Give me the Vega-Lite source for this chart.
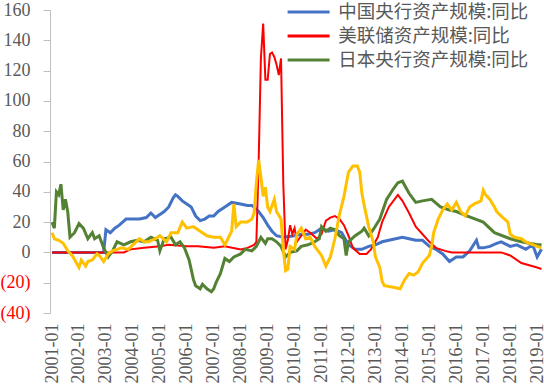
{
  "$schema": "https://vega.github.io/schema/vega-lite/v6.json",
  "width": 494,
  "height": 303,
  "autosize": "none",
  "padding": {"left": 50, "top": 10, "right": 0, "bottom": 75},
  "background": "white",
  "config": {"view": {"stroke": null}, "axisY": {"labelOverlap": false}, "axis": {"labelOverlap": false}},
  "datasets": {
    "series": [
      {"s":"CN","d":"2001-01","v":0},{"s":"CN","d":"2002-12","v":0},{"s":"CN","d":"2003-01","v":15},{"s":"CN","d":"2003-03","v":13},{"s":"CN","d":"2003-05","v":16},{"s":"CN","d":"2003-07","v":18},{"s":"CN","d":"2003-10","v":22},{"s":"CN","d":"2004-01","v":22},{"s":"CN","d":"2004-04","v":22},{"s":"CN","d":"2004-07","v":23},{"s":"CN","d":"2004-09","v":26},{"s":"CN","d":"2004-11","v":23},{"s":"CN","d":"2005-01","v":25},{"s":"CN","d":"2005-03","v":27},{"s":"CN","d":"2005-05","v":30},{"s":"CN","d":"2005-07","v":36},{"s":"CN","d":"2005-08","v":38},{"s":"CN","d":"2005-09","v":37},{"s":"CN","d":"2005-11","v":34},{"s":"CN","d":"2006-01","v":32},{"s":"CN","d":"2006-03","v":30},{"s":"CN","d":"2006-05","v":24},{"s":"CN","d":"2006-07","v":21},{"s":"CN","d":"2006-09","v":22},{"s":"CN","d":"2006-11","v":24},{"s":"CN","d":"2007-01","v":24},{"s":"CN","d":"2007-03","v":27},{"s":"CN","d":"2007-06","v":30},{"s":"CN","d":"2007-09","v":33},{"s":"CN","d":"2008-01","v":32},{"s":"CN","d":"2008-04","v":31},{"s":"CN","d":"2008-06","v":31},{"s":"CN","d":"2008-09","v":27},{"s":"CN","d":"2008-11","v":23},{"s":"CN","d":"2009-01","v":18},{"s":"CN","d":"2009-03","v":14},{"s":"CN","d":"2009-05","v":11},{"s":"CN","d":"2009-08","v":10},{"s":"CN","d":"2010-01","v":11},{"s":"CN","d":"2010-04","v":12},{"s":"CN","d":"2010-07","v":12},{"s":"CN","d":"2010-10","v":13},{"s":"CN","d":"2011-01","v":16},{"s":"CN","d":"2011-04","v":14},{"s":"CN","d":"2011-07","v":15},{"s":"CN","d":"2011-10","v":13},{"s":"CN","d":"2012-01","v":5},{"s":"CN","d":"2012-04","v":2},{"s":"CN","d":"2012-07","v":2},{"s":"CN","d":"2012-10","v":4},{"s":"CN","d":"2013-01","v":5},{"s":"CN","d":"2013-04","v":7},{"s":"CN","d":"2013-07","v":8},{"s":"CN","d":"2013-10","v":9},{"s":"CN","d":"2014-01","v":10},{"s":"CN","d":"2014-04","v":9},{"s":"CN","d":"2014-07","v":8},{"s":"CN","d":"2014-10","v":8},{"s":"CN","d":"2015-01","v":4},{"s":"CN","d":"2015-04","v":2},{"s":"CN","d":"2015-07","v":-1},{"s":"CN","d":"2015-10","v":-6},{"s":"CN","d":"2016-01","v":-3},{"s":"CN","d":"2016-04","v":-3},{"s":"CN","d":"2016-07","v":1},{"s":"CN","d":"2016-10","v":8},{"s":"CN","d":"2016-11","v":3},{"s":"CN","d":"2017-01","v":3},{"s":"CN","d":"2017-04","v":4},{"s":"CN","d":"2017-07","v":6},{"s":"CN","d":"2017-09","v":7},{"s":"CN","d":"2018-01","v":4},{"s":"CN","d":"2018-04","v":5},{"s":"CN","d":"2018-08","v":2},{"s":"CN","d":"2018-11","v":5},{"s":"CN","d":"2019-01","v":-3},{"s":"CN","d":"2019-03","v":2},
      {"s":"US","d":"2001-01","v":0},{"s":"US","d":"2003-09","v":0},{"s":"US","d":"2003-12","v":2},{"s":"US","d":"2004-06","v":3},{"s":"US","d":"2005-01","v":4},{"s":"US","d":"2005-05","v":5},{"s":"US","d":"2006-01","v":4},{"s":"US","d":"2006-06","v":4},{"s":"US","d":"2007-01","v":3},{"s":"US","d":"2007-06","v":4},{"s":"US","d":"2008-01","v":2},{"s":"US","d":"2008-04","v":3},{"s":"US","d":"2008-07","v":5},{"s":"US","d":"2008-08","v":7},{"s":"US","d":"2008-09","v":60},{"s":"US","d":"2008-10","v":128},{"s":"US","d":"2008-11","v":151},{"s":"US","d":"2008-12","v":114},{"s":"US","d":"2009-01","v":114},{"s":"US","d":"2009-02","v":131},{"s":"US","d":"2009-03","v":132},{"s":"US","d":"2009-04","v":129},{"s":"US","d":"2009-05","v":124},{"s":"US","d":"2009-06","v":117},{"s":"US","d":"2009-07","v":128},{"s":"US","d":"2009-08","v":45},{"s":"US","d":"2009-09","v":2},{"s":"US","d":"2009-10","v":8},{"s":"US","d":"2009-11","v":18},{"s":"US","d":"2009-12","v":12},{"s":"US","d":"2010-01","v":16},{"s":"US","d":"2010-02","v":7},{"s":"US","d":"2010-04","v":11},{"s":"US","d":"2010-06","v":15},{"s":"US","d":"2010-08","v":13},{"s":"US","d":"2010-11","v":9},{"s":"US","d":"2011-01","v":12},{"s":"US","d":"2011-03","v":21},{"s":"US","d":"2011-05","v":23},{"s":"US","d":"2011-07","v":24},{"s":"US","d":"2011-09","v":22},{"s":"US","d":"2011-11","v":18},{"s":"US","d":"2012-01","v":11},{"s":"US","d":"2012-03","v":3},{"s":"US","d":"2012-06","v":-1},{"s":"US","d":"2012-09","v":-1},{"s":"US","d":"2012-11","v":2},{"s":"US","d":"2013-02","v":10},{"s":"US","d":"2013-04","v":20},{"s":"US","d":"2013-07","v":30},{"s":"US","d":"2013-11","v":38},{"s":"US","d":"2014-01","v":34},{"s":"US","d":"2014-04","v":26},{"s":"US","d":"2014-07","v":17},{"s":"US","d":"2014-10","v":12},{"s":"US","d":"2015-01","v":7},{"s":"US","d":"2015-04","v":3},{"s":"US","d":"2015-08","v":1},{"s":"US","d":"2015-11","v":0},{"s":"US","d":"2016-06","v":0},{"s":"US","d":"2017-06","v":0},{"s":"US","d":"2017-09","v":0},{"s":"US","d":"2018-01","v":-2},{"s":"US","d":"2018-06","v":-7},{"s":"US","d":"2019-01","v":-10},{"s":"US","d":"2019-03","v":-11},
      {"s":"JP","d":"2001-01","v":20},{"s":"JP","d":"2001-02","v":16},{"s":"JP","d":"2001-03","v":40},{"s":"JP","d":"2001-04","v":38},{"s":"JP","d":"2001-05","v":45},{"s":"JP","d":"2001-06","v":28},{"s":"JP","d":"2001-07","v":35},{"s":"JP","d":"2001-08","v":27},{"s":"JP","d":"2001-09","v":10},{"s":"JP","d":"2001-11","v":13},{"s":"JP","d":"2002-01","v":19},{"s":"JP","d":"2002-03","v":16},{"s":"JP","d":"2002-05","v":9},{"s":"JP","d":"2002-07","v":13},{"s":"JP","d":"2002-08","v":9},{"s":"JP","d":"2002-10","v":11},{"s":"JP","d":"2002-12","v":3},{"s":"JP","d":"2003-02","v":-3},{"s":"JP","d":"2003-04","v":1},{"s":"JP","d":"2003-06","v":7},{"s":"JP","d":"2003-09","v":5},{"s":"JP","d":"2003-12","v":7},{"s":"JP","d":"2004-03","v":8},{"s":"JP","d":"2004-06","v":7},{"s":"JP","d":"2004-09","v":10},{"s":"JP","d":"2004-12","v":8},{"s":"JP","d":"2005-01","v":1},{"s":"JP","d":"2005-03","v":9},{"s":"JP","d":"2005-06","v":10},{"s":"JP","d":"2005-08","v":5},{"s":"JP","d":"2005-10","v":7},{"s":"JP","d":"2005-12","v":3},{"s":"JP","d":"2006-02","v":-5},{"s":"JP","d":"2006-03","v":-11},{"s":"JP","d":"2006-04","v":-18},{"s":"JP","d":"2006-05","v":-22},{"s":"JP","d":"2006-07","v":-24},{"s":"JP","d":"2006-08","v":-21},{"s":"JP","d":"2006-10","v":-24},{"s":"JP","d":"2006-12","v":-26},{"s":"JP","d":"2007-01","v":-24},{"s":"JP","d":"2007-02","v":-20},{"s":"JP","d":"2007-04","v":-14},{"s":"JP","d":"2007-06","v":-4},{"s":"JP","d":"2007-08","v":-6},{"s":"JP","d":"2007-10","v":-3},{"s":"JP","d":"2008-01","v":-1},{"s":"JP","d":"2008-03","v":2},{"s":"JP","d":"2008-06","v":1},{"s":"JP","d":"2008-08","v":4},{"s":"JP","d":"2008-10","v":10},{"s":"JP","d":"2008-12","v":6},{"s":"JP","d":"2009-01","v":9},{"s":"JP","d":"2009-03","v":9},{"s":"JP","d":"2009-05","v":7},{"s":"JP","d":"2009-07","v":4},{"s":"JP","d":"2009-09","v":-3},{"s":"JP","d":"2009-11","v":0},{"s":"JP","d":"2010-02","v":1},{"s":"JP","d":"2010-04","v":4},{"s":"JP","d":"2010-07","v":5},{"s":"JP","d":"2010-10","v":7},{"s":"JP","d":"2010-12","v":9},{"s":"JP","d":"2011-01","v":17},{"s":"JP","d":"2011-03","v":14},{"s":"JP","d":"2011-05","v":16},{"s":"JP","d":"2011-07","v":15},{"s":"JP","d":"2011-09","v":11},{"s":"JP","d":"2011-11","v":9},{"s":"JP","d":"2011-12","v":-2},{"s":"JP","d":"2012-01","v":7},{"s":"JP","d":"2012-04","v":11},{"s":"JP","d":"2012-07","v":14},{"s":"JP","d":"2012-08","v":16},{"s":"JP","d":"2012-10","v":11},{"s":"JP","d":"2012-12","v":15},{"s":"JP","d":"2013-03","v":22},{"s":"JP","d":"2013-06","v":35},{"s":"JP","d":"2013-09","v":42},{"s":"JP","d":"2013-11","v":46},{"s":"JP","d":"2014-01","v":47},{"s":"JP","d":"2014-04","v":39},{"s":"JP","d":"2014-07","v":33},{"s":"JP","d":"2014-10","v":34},{"s":"JP","d":"2015-02","v":35},{"s":"JP","d":"2015-06","v":30},{"s":"JP","d":"2015-10","v":28},{"s":"JP","d":"2016-01","v":27},{"s":"JP","d":"2016-06","v":24},{"s":"JP","d":"2017-01","v":20},{"s":"JP","d":"2017-06","v":13},{"s":"JP","d":"2018-01","v":9},{"s":"JP","d":"2018-06","v":7},{"s":"JP","d":"2019-01","v":5},{"s":"JP","d":"2019-03","v":5},
      {"s":"EU","d":"2001-01","v":13},{"s":"EU","d":"2001-02","v":9},{"s":"EU","d":"2001-04","v":8},{"s":"EU","d":"2001-06","v":6},{"s":"EU","d":"2001-08","v":1},{"s":"EU","d":"2001-10","v":-2},{"s":"EU","d":"2002-01","v":-10},{"s":"EU","d":"2002-02","v":-5},{"s":"EU","d":"2002-04","v":-9},{"s":"EU","d":"2002-05","v":-6},{"s":"EU","d":"2002-07","v":-5},{"s":"EU","d":"2002-09","v":-1},{"s":"EU","d":"2002-10","v":-2},{"s":"EU","d":"2002-12","v":-6},{"s":"EU","d":"2003-02","v":-1},{"s":"EU","d":"2003-04","v":1},{"s":"EU","d":"2003-06","v":2},{"s":"EU","d":"2003-08","v":3},{"s":"EU","d":"2003-11","v":2},{"s":"EU","d":"2004-01","v":5},{"s":"EU","d":"2004-04","v":9},{"s":"EU","d":"2004-06","v":7},{"s":"EU","d":"2004-08","v":7},{"s":"EU","d":"2004-11","v":9},{"s":"EU","d":"2005-01","v":11},{"s":"EU","d":"2005-04","v":7},{"s":"EU","d":"2005-06","v":13},{"s":"EU","d":"2005-09","v":13},{"s":"EU","d":"2005-11","v":20},{"s":"EU","d":"2006-01","v":16},{"s":"EU","d":"2006-04","v":17},{"s":"EU","d":"2006-07","v":14},{"s":"EU","d":"2006-10","v":11},{"s":"EU","d":"2007-01","v":10},{"s":"EU","d":"2007-04","v":10},{"s":"EU","d":"2007-06","v":5},{"s":"EU","d":"2007-08","v":11},{"s":"EU","d":"2007-09","v":14},{"s":"EU","d":"2007-10","v":32},{"s":"EU","d":"2007-11","v":17},{"s":"EU","d":"2008-01","v":20},{"s":"EU","d":"2008-04","v":20},{"s":"EU","d":"2008-06","v":22},{"s":"EU","d":"2008-07","v":26},{"s":"EU","d":"2008-08","v":46},{"s":"EU","d":"2008-09","v":61},{"s":"EU","d":"2008-10","v":50},{"s":"EU","d":"2008-11","v":37},{"s":"EU","d":"2008-12","v":43},{"s":"EU","d":"2009-01","v":30},{"s":"EU","d":"2009-02","v":27},{"s":"EU","d":"2009-04","v":35},{"s":"EU","d":"2009-05","v":27},{"s":"EU","d":"2009-07","v":22},{"s":"EU","d":"2009-08","v":2},{"s":"EU","d":"2009-09","v":-12},{"s":"EU","d":"2009-10","v":-11},{"s":"EU","d":"2009-11","v":4},{"s":"EU","d":"2010-01","v":2},{"s":"EU","d":"2010-02","v":12},{"s":"EU","d":"2010-04","v":16},{"s":"EU","d":"2010-06","v":9},{"s":"EU","d":"2010-08","v":10},{"s":"EU","d":"2010-10","v":4},{"s":"EU","d":"2011-01","v":-2},{"s":"EU","d":"2011-03","v":-9},{"s":"EU","d":"2011-05","v":-3},{"s":"EU","d":"2011-07","v":9},{"s":"EU","d":"2011-09","v":25},{"s":"EU","d":"2011-11","v":37},{"s":"EU","d":"2012-01","v":53},{"s":"EU","d":"2012-03","v":57},{"s":"EU","d":"2012-05","v":57},{"s":"EU","d":"2012-06","v":53},{"s":"EU","d":"2012-07","v":39},{"s":"EU","d":"2012-08","v":31},{"s":"EU","d":"2012-10","v":17},{"s":"EU","d":"2012-12","v":7},{"s":"EU","d":"2013-01","v":-3},{"s":"EU","d":"2013-03","v":-10},{"s":"EU","d":"2013-04","v":-19},{"s":"EU","d":"2013-05","v":-22},{"s":"EU","d":"2013-09","v":-23},{"s":"EU","d":"2013-12","v":-24},{"s":"EU","d":"2014-02","v":-18},{"s":"EU","d":"2014-04","v":-14},{"s":"EU","d":"2014-06","v":-15},{"s":"EU","d":"2014-08","v":-13},{"s":"EU","d":"2014-10","v":-7},{"s":"EU","d":"2015-01","v":-2},{"s":"EU","d":"2015-02","v":4},{"s":"EU","d":"2015-03","v":13},{"s":"EU","d":"2015-05","v":22},{"s":"EU","d":"2015-07","v":28},{"s":"EU","d":"2015-09","v":32},{"s":"EU","d":"2015-11","v":28},{"s":"EU","d":"2016-01","v":33},{"s":"EU","d":"2016-03","v":27},{"s":"EU","d":"2016-05","v":24},{"s":"EU","d":"2016-07","v":30},{"s":"EU","d":"2016-09","v":32},{"s":"EU","d":"2016-12","v":34},{"s":"EU","d":"2017-01","v":41},{"s":"EU","d":"2017-02","v":38},{"s":"EU","d":"2017-04","v":35},{"s":"EU","d":"2017-06","v":30},{"s":"EU","d":"2017-07","v":27},{"s":"EU","d":"2017-09","v":24},{"s":"EU","d":"2017-12","v":20},{"s":"EU","d":"2018-01","v":12},{"s":"EU","d":"2018-03","v":10},{"s":"EU","d":"2018-06","v":9},{"s":"EU","d":"2018-08","v":7},{"s":"EU","d":"2019-01","v":4},{"s":"EU","d":"2019-03","v":3}
    ],
    "ticks": [
      {"d":"2001-12"},{"d":"2002-12"},{"d":"2003-12"},{"d":"2004-12"},{"d":"2005-12"},{"d":"2006-12"},{"d":"2007-12"},{"d":"2008-12"},{"d":"2009-12"},{"d":"2010-12"},{"d":"2011-12"},{"d":"2012-12"},{"d":"2013-12"},{"d":"2014-12"},{"d":"2015-12"},{"d":"2016-12"},{"d":"2017-12"},{"d":"2018-12"}
    ]
  },
  "encoding": {
    "x": {
      "field": "d", "type": "temporal",
      "scale": {"type": "utc", "domain": [{"year": 2000, "month": 12, "date": 4, "utc": true}, {"year": 2019, "month": 4, "date": 4, "utc": true}]},
      "axis": {"title": null, "format": "%Y-%m", "tickCount": {"interval": "year", "step": 1}, "labelAngle": -90, "labelAlign": "right", "labelBaseline": "middle", "labelPadding": 10, "domain": false, "ticks": false, "grid": false, "labelOverlap": false, "labelFlush": false, "labelFont": "Liberation Serif", "labelFontSize": 18, "labelColor": "#595959"}
    },
    "y": {"field": "v", "type": "quantitative", "scale": {"domain": [-40, 160], "nice": false},
      "axis": {"title": null, "values": [-40, -20, 0, 20, 40, 60, 80, 100, 120, 140, 160], "grid": false, "labelOverlap": false,
        "labelExpr": "datum.value < 0 ? '(' + abs(datum.value) + ')' : datum.value + '\u00a0'",
        "labelColor": {"condition": {"test": "datum.value < 0", "value": "#FF0000"}, "value": "#595959"},
        "labelFont": "Liberation Serif", "labelFontSize": 18, "domainColor": "#BFBFBF", "tickColor": "#BFBFBF", "tickSize": 7, "labelPadding": 13}}
  },
  "layer": [
    {
      "data": {"name": "ticks"},
      "mark": {"type": "rule", "color": "#D9D9D9", "strokeWidth": 1},
      "encoding": {"y": {"datum": 0, "type": "quantitative"}, "y2": {"datum": -4}}
    },
    {
      "data": {"name": "ticks"},
      "mark": {"type": "rule", "color": "#D9D9D9", "strokeWidth": 1},
      "encoding": {"x": null, "y": {"datum": 0, "type": "quantitative"}}
    },
    {
      "data": {"name": "series"},
      "transform": [{"filter": "datum.s === 'CN'"}],
      "mark": {"type": "line", "strokeWidth": 3},
      "encoding": {
        "color": {"field": "s", "type": "nominal",
          "scale": {"domain": ["CN", "US", "JP", "EU"], "range": ["#4472C4", "#FF0000", "#548235", "#FFC000"]},
          "legend": {"values": ["CN", "US", "JP"], "title": null, "orient": "none", "legendX": 248.6, "legendY": -8, "padding": 0,
            "labelExpr": "{'CN': '中国央行资产规模:同比', 'US': '美联储资产规模:同比', 'JP': '日本央行资产规模:同比'}[datum.label]",
            "symbolType": "M-2.5,0H2.5", "symbolSize": 282, "symbolStrokeWidth": 3, "labelOffset": 19.6, "rowPadding": 4,
            "labelFont": "Noto Sans CJK SC", "labelFontSize": 18.5, "labelColor": "#595959", "labelLimit": 400}}
      }
    },
    {
      "data": {"name": "series"},
      "transform": [{"filter": "datum.s === 'US'"}],
      "mark": {"type": "line", "strokeWidth": 2},
      "encoding": {"color": {"field": "s", "type": "nominal"}}
    },
    {
      "data": {"name": "series"},
      "transform": [{"filter": "datum.s === 'JP'"}],
      "mark": {"type": "line", "strokeWidth": 3},
      "encoding": {"color": {"field": "s", "type": "nominal"}}
    },
    {
      "data": {"name": "series"},
      "transform": [{"filter": "datum.s === 'EU'"}],
      "mark": {"type": "line", "strokeWidth": 3},
      "encoding": {"color": {"field": "s", "type": "nominal"}}
    }
  ]
}
